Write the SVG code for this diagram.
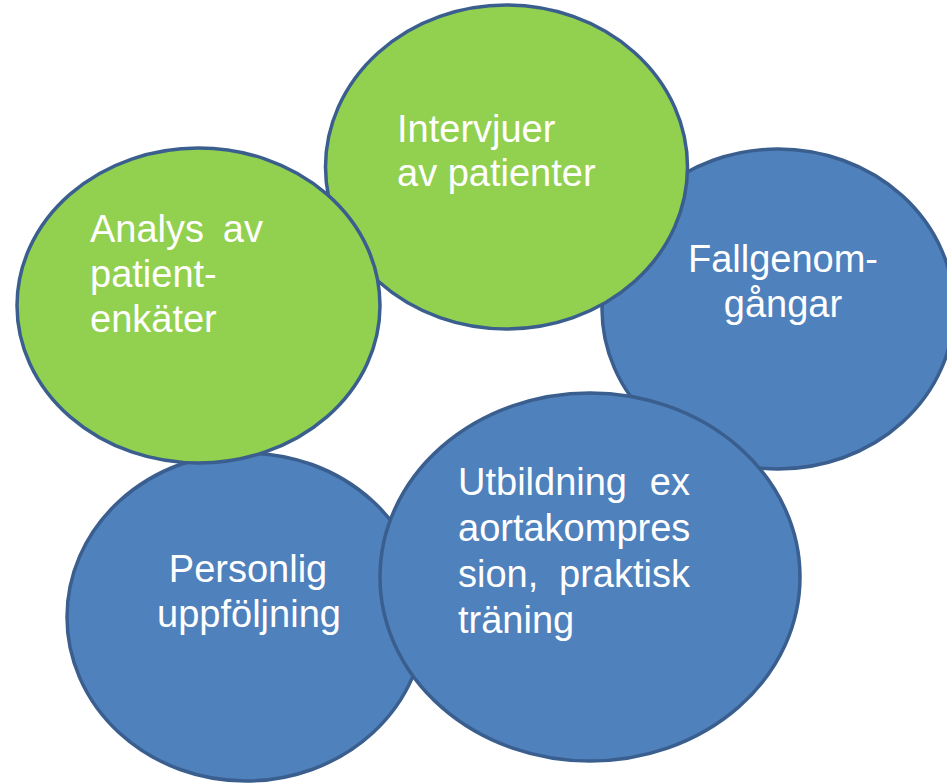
<svg xmlns="http://www.w3.org/2000/svg" width="947" height="783" viewBox="0 0 947 783">
<style>
.g{fill:#92D050;stroke:#3A5F8F;stroke-width:3.5}
.b{fill:#4F81BD;stroke:#3A5F8F;stroke-width:3.5}
text{font-family:"Liberation Sans",Arial,sans-serif;font-size:38px;fill:#fff}
.c{text-anchor:middle}
.e{text-anchor:end}
</style>
<rect width="947" height="783" fill="#fff"/>
<g id="fallgenomgangar">
<ellipse class="b" cx="778" cy="309" rx="176" ry="160"/>
<text class="c" x="783" y="272">Fallgenom-</text>
<text class="c" x="783" y="317">gångar</text>
</g>
<g id="intervjuer">
<ellipse class="g" cx="506.5" cy="167" rx="181" ry="162"/>
<text x="397" y="142">Intervjuer</text>
<text x="397" y="186">av patienter</text>
</g>
<g id="personlig">
<ellipse class="b" cx="246" cy="617" rx="179" ry="164"/>
<text class="c" x="248" y="582">Personlig</text>
<text class="c" x="249" y="627">uppföljning</text>
</g>
<g id="analys">
<ellipse class="g" cx="198.5" cy="305.5" rx="181.5" ry="157.5"/>
<text x="90" y="242">Analys</text>
<text class="e" x="263" y="242">av</text>
<text x="90" y="287">patient-</text>
<text x="90" y="332">enkäter</text>
</g>
<g id="utbildning">
<ellipse class="b" cx="590" cy="577" rx="210" ry="184"/>
<text x="458" y="495">Utbildning</text>
<text class="e" x="690" y="495">ex</text>
<text x="458" y="541">aortakompres</text>
<text x="458" y="587">sion,</text>
<text class="e" x="690" y="587">praktisk</text>
<text x="458" y="633">träning</text>
</g>
<g id="connectors"/>
</svg>
